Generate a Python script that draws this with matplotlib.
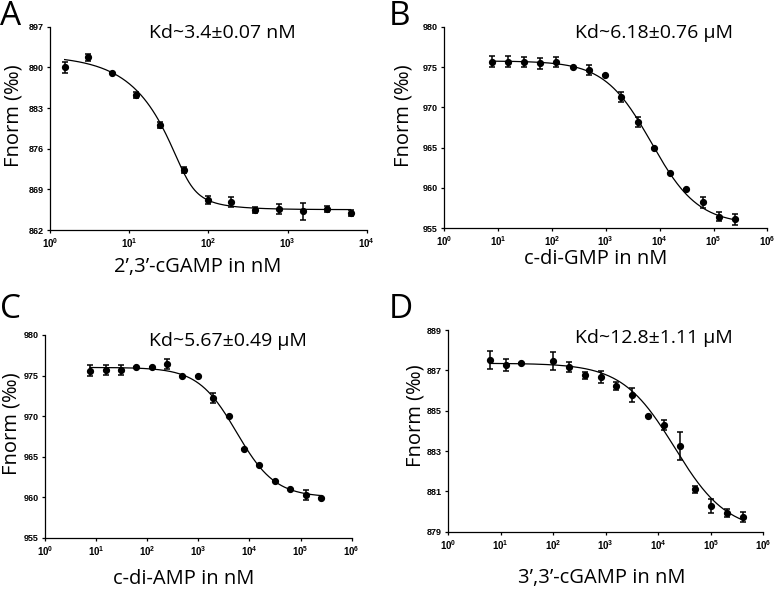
import numpy as np
import matplotlib
matplotlib.use("Agg")
import matplotlib.pyplot as plt
from matplotlib.ticker import FixedLocator, FixedFormatter, NullLocator

plt.rcParams['mathtext.fontset'] = 'custom'
plt.rcParams['mathtext.rm'] = 'Liberation Sans'
plt.rcParams['mathtext.bf'] = 'Liberation Sans:bold'

LABEL_FONT = ['Open Sans', 'DejaVu Sans']
TICK_FONT = 'Liberation Sans'

# ----------------------------------------------
# data (concentrations in nM, Fnorm in permille)
# ----------------------------------------------

# A: 2',3'-cGAMP
conc_a = [1.53, 3.05, 6.1, 12.2, 24.4, 48.8, 97.7, 195.3, 390.6, 781.3, 1562.5, 3125, 6250]
fnorm_a = [890.0, 891.7, 889.1, 885.2, 880.1, 872.3, 867.2, 866.8, 865.4, 865.7, 865.2, 865.6, 864.9]
err_a = [1.0, 0.66, 0.15, 0.5, 0.5, 0.57, 0.69, 0.8, 0.5, 0.86, 1.4, 0.5, 0.46]
fit_a = dict(unbound=892.1, bound=865.5, kd=3.4, target=50.0)

# B: c-di-GMP
conc_b = [7.63, 15.3, 30.5, 61.0, 122, 244, 488, 977, 1953, 3906, 7813, 15625, 31250, 62500, 125000, 250000]
fnorm_b = [975.66, 975.66, 975.66, 975.45, 975.66, 975.0, 974.63, 974.0, 971.32, 968.22, 965.0, 961.9, 959.88, 958.2, 956.45, 956.1]
err_b = [0.66, 0.66, 0.6, 0.66, 0.6, 0, 0.6, 0, 0.6, 0.6, 0, 0, 0, 0.68, 0.6, 0.64]
fit_b = dict(top=975.75, bottom=955.5, ec50=7000, hill=1.0)

# C: c-di-AMP
conc_c = [7.63, 15.3, 30.5, 61.0, 122, 244, 488, 977, 1953, 3906, 7813, 15625, 31250, 62500, 125000, 250000]
fnorm_c = [975.6, 975.68, 975.68, 976.0, 976.0, 976.38, 975.0, 975.0, 972.26, 970.0, 966.0, 963.95, 961.98, 960.95, 960.25, 959.92]
err_c = [0.68, 0.62, 0.57, 0, 0, 0.62, 0, 0, 0.6, 0, 0, 0, 0, 0, 0.6, 0]
fit_c = dict(top=976.0, bottom=960.0, ec50=5600, hill=1.15)

# D: 3',3'-cGAMP
conc_d = [6.25, 12.5, 25, 100, 200, 400, 800, 1600, 3200, 6400, 12800, 25600, 51200, 102400, 204800, 409600]
fnorm_d = [887.51, 887.26, 887.35, 887.46, 887.18, 886.75, 886.67, 886.22, 885.78, 884.75, 884.29, 883.26, 881.1, 880.27, 879.94, 879.74]
err_d = [0.46, 0.28, 0, 0.45, 0.25, 0.18, 0.3, 0.18, 0.33, 0, 0.26, 0.7, 0.19, 0.34, 0.19, 0.25]
fit_d = dict(top=887.35, bottom=879.0, ec50=20500, hill=0.87)

titles = ["Kd~3.4±0.07 nM", "Kd~6.18±0.76 µM", "Kd~5.67±0.49 µM", "Kd~12.8±1.11 µM"]
xlabels = ["2’,3’-cGAMP in nM", "c-di-GMP in nM", "c-di-AMP in nM", "3’,3’-cGAMP in nM"]
letters = ["A", "B", "C", "D"]
yticks_a = [862, 869, 876, 883, 890, 897]
yticks_b = [955, 960, 965, 970, 975, 980]
yticks_c = [955, 960, 965, 970, 975, 980]
yticks_d = [879, 881, 883, 885, 887, 889]


def kd_model(c, unbound, bound, kd, target):
    s = c + target + kd
    frac = (s - np.sqrt(s ** 2 - 4 * c * target)) / (2 * target)
    return unbound + (bound - unbound) * frac


def hill_model(c, top, bottom, ec50, hill):
    return bottom + (top - bottom) / (1 + (c / ec50) ** hill)


W, H = 778, 589
fig = plt.figure(figsize=(W / 100, H / 100), dpi=100)


def px_axes(left, top, right, bottom):
    return fig.add_axes([left / W, 1 - bottom / H, (right - left) / W, (bottom - top) / H])


def draw_panel(ax, conc, fnorm, err, xfit, yfit, yticks, max_exp):
    ax.plot(xfit, yfit, color='black', lw=0.9, zorder=2)
    ax.errorbar(conc, fnorm, yerr=err, fmt='o', color='black', ms=4.2,
                elinewidth=1.1, capsize=2.2, capthick=1.1, zorder=3)
    ax.set_xscale('log')
    ax.set_xlim(1, 10 ** max_exp)
    ax.set_ylim(yticks[0], yticks[-1])
    exps = list(range(0, max_exp + 1))
    ax.xaxis.set_major_locator(FixedLocator([10.0 ** e for e in exps]))
    ax.xaxis.set_major_formatter(FixedFormatter([r'$\mathbf{10^{%d}}$' % e for e in exps]))
    ax.xaxis.set_minor_locator(NullLocator())
    ax.set_yticks(yticks)
    ax.set_yticklabels([str(t) for t in yticks])
    for lab in ax.get_yticklabels():
        lab.set_fontfamily(TICK_FONT)
        lab.set_fontweight('bold')
    ax.tick_params(labelsize=6.5, length=2.5, width=0.9, pad=2, direction='out')
    ax.tick_params(axis='x', labelsize=7)
    for side in ['top', 'right']:
        ax.spines[side].set_visible(False)
    for side in ['left', 'bottom']:
        ax.spines[side].set_linewidth(0.9)


# A
ax_a = px_axes(50, 26.7, 366.7, 230)
xa = np.logspace(np.log10(conc_a[0]), np.log10(conc_a[-1]), 300)
draw_panel(ax_a, conc_a, fnorm_a, err_a, xa, kd_model(xa, **fit_a), yticks_a, 4)

# B
ax_b = px_axes(444, 26.7, 767.5, 228.3)
xb = np.logspace(np.log10(conc_b[0]), np.log10(conc_b[-1]), 300)
draw_panel(ax_b, conc_b, fnorm_b, err_b, xb, hill_model(xb, **fit_b), yticks_b, 6)

# C
ax_c = px_axes(45, 335, 351.7, 537.7)
xc = np.logspace(np.log10(conc_c[0]), np.log10(conc_c[-1]), 300)
draw_panel(ax_c, conc_c, fnorm_c, err_c, xc, hill_model(xc, **fit_c), yticks_c, 6)

# D
ax_d = px_axes(448, 330, 763.3, 531.7)
xd = np.logspace(np.log10(conc_d[0]), np.log10(conc_d[-1]), 300)
draw_panel(ax_d, conc_d, fnorm_d, err_d, xd, hill_model(xd, **fit_d), yticks_d, 6)


def ftext(x, y, s, **kw):
    fig.text(x / W, 1 - y / H, s, family=LABEL_FONT, **kw)


# panel letters
letter_pos = [(0, 0), (389, 0), (0, 293), (389, 293)]
for (x, y), s in zip(letter_pos, letters):
    ftext(x, y, s, fontsize=24, ha='left', va='top')

# Kd annotations
kd_pos = [(222, 33), (654, 33), (228, 341), (654, 338)]
for (x, y), s in zip(kd_pos, titles):
    ftext(x, y, s, fontsize=14, ha='center', va='center')

# x labels
xl_pos = [(198, 267), (596, 259), (184, 579), (602, 578)]
for (x, y), s in zip(xl_pos, xlabels):
    ftext(x, y, s, fontsize=14.5, ha='center', va='center')

# y labels
yl_pos = [(14, 116), (404, 116), (12, 424), (416, 416)]
for (x, y) in yl_pos:
    ftext(x, y, "Fnorm (‰)", fontsize=14.5, ha='center', va='center', rotation=90)

fig.savefig("out.png", dpi=100)
